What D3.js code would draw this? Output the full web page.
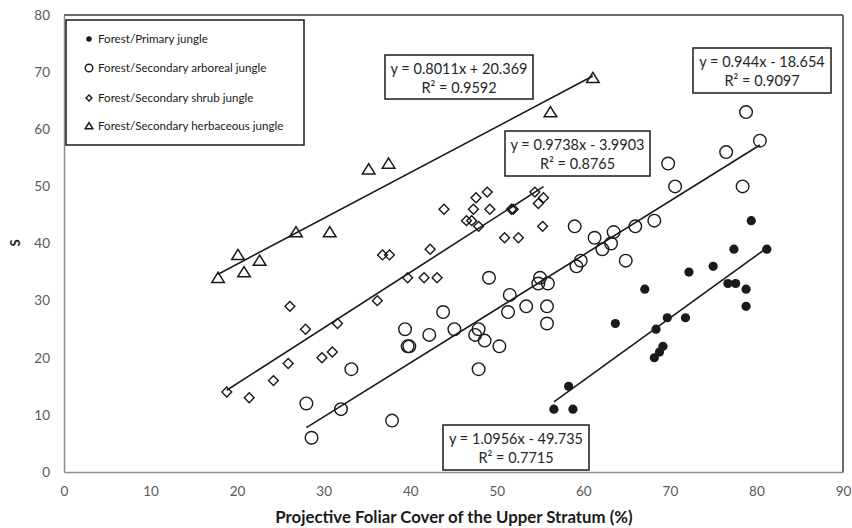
<!DOCTYPE html>
<html><head><meta charset="utf-8">
<script src="https://cdn.jsdelivr.net/npm/d3@7"></script>
<style>body{margin:0;background:#fff}svg{display:block}</style>
</head><body><svg id="c" width="852" height="528"></svg>
<script>
const seriesNames = ["Forest/Primary jungle","Forest/Secondary arboreal jungle","Forest/Secondary shrub jungle","Forest/Secondary herbaceous jungle"];
const primaryX = [56.6,58.3,58.8,63.7,67.1,68.2,68.4,68.8,69.2,69.7,71.8,72.2,75.0,76.7,77.4,77.6,78.8,78.8,79.4,81.2];
const primaryY = [11,15,11,26,32,20,25,21,22,27,27,35,36,33,39,33,32,29,44,39];
const arborealX = [28.6,28.0,32.0,33.2,37.9,39.4,39.7,39.9,42.2,43.8,45.1,47.5,47.9,48.6,47.9,49.1,50.3,51.3,51.5,53.4,54.8,55.0,55.8,55.8,55.9,59.0,59.2,59.7,61.3,62.2,63.2,63.5,64.9,66.0,68.2,69.8,70.6,76.5,78.4,78.8,80.4];
const arborealY = [6,12,11,18,9,25,22,22,24,28,25,24,25,23,18,34,22,28,31,29,33,34,29,26,33,43,36,37,41,39,40,42,37,43,44,54,50,56,50,63,58];
const shrubX = [18.8,21.4,24.2,25.9,26.1,27.9,29.8,31.0,31.6,36.2,36.8,37.6,39.7,41.6,42.3,43.1,43.9,46.5,47.1,47.3,47.6,47.9,48.9,49.2,50.9,51.7,51.9,52.5,54.4,54.8,55.3,55.4];
const shrubY = [14,13,16,19,29,25,20,21,26,30,38,38,34,34,39,34,46,44,44,46,48,43,49,46,41,46,46,41,49,47,43,48];
const herbX = [17.8,20.1,20.8,22.6,26.8,30.7,35.2,37.5,56.2,61.1];
const herbY = [34,38,35,37,42,42,53,54,63,69];
const slopes = [1.0956,0.944,0.9738,0.8011];
const intercepts = [-49.735,-18.654,-3.9903,20.369];
const eqLine1 = ["y = 1.0956x - 49.735","y = 0.944x - 18.654","y = 0.9738x - 3.9903","y = 0.8011x + 20.369"];
const eqLine2 = ["R² = 0.7715","R² = 0.9097","R² = 0.8765","R² = 0.9592"];
const xTicks = [0,10,20,30,40,50,60,70,80,90];
const yTicks = [0,10,20,30,40,50,60,70,80];

const svg = d3.select("#c");
const L=64,R=843,T=15,B=472;
const x = d3.scaleLinear().domain([0,90]).range([L,R]);
const y = d3.scaleLinear().domain([0,80]).range([B,T]);
const ink = "#1a1a1a";
const font = "Lato, 'Open Sans', sans-serif";

// frame
svg.append("line").attr("x1",L).attr("x2",R).attr("y1",T).attr("y2",T).attr("stroke","#3a3a3a").attr("stroke-width",1.5);
svg.append("line").attr("x1",R).attr("x2",R).attr("y1",T).attr("y2",B).attr("stroke","#3a3a3a").attr("stroke-width",1.5);

// axes
const xa = svg.append("g").attr("transform",`translate(0,${B})`).call(d3.axisBottom(x).tickValues(xTicks).tickSize(0).tickPadding(14));
const ya = svg.append("g").attr("transform",`translate(${L},0)`).call(d3.axisLeft(y).tickValues(yTicks).tickSize(0).tickPadding(14));
[xa,ya].forEach(a=>{a.select(".domain").attr("stroke","#8c8c8c").attr("stroke-width",1.5);
 a.selectAll("text").attr("font-family",font).attr("font-size",13.5).attr("fill","#595959");});

svg.append("text").attr("x",454).attr("y",523).attr("text-anchor","middle").attr("font-family",font).attr("font-weight","bold").attr("font-size",16.8).attr("fill","#1a1a1a").text("Projective Foliar Cover of the Upper Stratum (%)");
svg.append("text").attr("transform","translate(20,243) rotate(-90)").attr("text-anchor","middle").attr("font-family",font).attr("font-weight","bold").attr("font-size",13).attr("fill","#1a1a1a").text("S");

// trend lines
const xs = [primaryX,arborealX,shrubX,herbX];
const ys = [primaryY,arborealY,shrubY,herbY];
xs.forEach((arr,i)=>{
  const [a,b]=d3.extent(arr);
  svg.append("line").attr("x1",x(a)).attr("x2",x(b)).attr("y1",y(slopes[i]*a+intercepts[i])).attr("y2",y(slopes[i]*b+intercepts[i])).attr("stroke",ink).attr("stroke-width",1.6);
});

// markers
function marker(g,type,s){
  if(type===0) return g.append("circle").attr("r",4.6*s).attr("fill",ink);
  if(type===1) return g.append("circle").attr("r",6.3*s).attr("fill","none").attr("stroke",ink).attr("stroke-width",1.4);
  if(type===2) return g.append("path").attr("d",d3.symbol(d3.symbolSquare,Math.pow(7*s,2))()).attr("transform","rotate(45)").attr("fill","none").attr("stroke",ink).attr("stroke-width",1.4);
  if(type===3) {const h=5.5*s; return g.append("path").attr("d",`M0,${-h} L${h*1.15},${h*0.85} L${-h*1.15},${h*0.85} Z`).attr("fill","none").attr("stroke",ink).attr("stroke-width",1.5);}
}
[1,2,3,0].forEach(i=>{
  xs[i].forEach((v,j)=>{
    const g=svg.append("g").attr("transform",`translate(${x(v)},${y(ys[i][j])})`);
    marker(g,i,1);
  });
});

// equation boxes (pixel layout)
const boxes = [[443,425,146,45],[693,48,138,45],[505,131,145,45],[385,55,148,44]];
boxes.forEach((bx,i)=>{
  const [bxX,bxY,w,h]=bx;
  svg.append("rect").attr("x",bxX).attr("y",bxY).attr("width",w).attr("height",h).attr("fill","#fff").attr("stroke",ink).attr("stroke-width",1.5);
  svg.append("text").attr("x",bxX+w/2).attr("y",bxY+19).attr("text-anchor","middle").attr("font-family",font).attr("font-size",14.5).attr("fill","#262626").text(eqLine1[i]);
  svg.append("text").attr("x",bxX+w/2).attr("y",bxY+38).attr("text-anchor","middle").attr("font-family",font).attr("font-size",14.5).attr("fill","#262626").text(eqLine2[i]);
});

// legend
const lg = svg.append("g");
lg.append("rect").attr("x",66).attr("y",20).attr("width",238).attr("height",125).attr("fill","#fff").attr("stroke",ink).attr("stroke-width",1.5);
const rowsY=[39,68,98,126];
seriesNames.forEach((n,i)=>{
  const g=lg.append("g").attr("transform",`translate(89,${rowsY[i]})`);
  marker(g,i,0.6);
  lg.append("text").attr("x",98).attr("y",rowsY[i]+4).attr("font-family",font).attr("font-size",11.6).attr("fill","#1a1a1a").text(n);
});
</script></body></html>
